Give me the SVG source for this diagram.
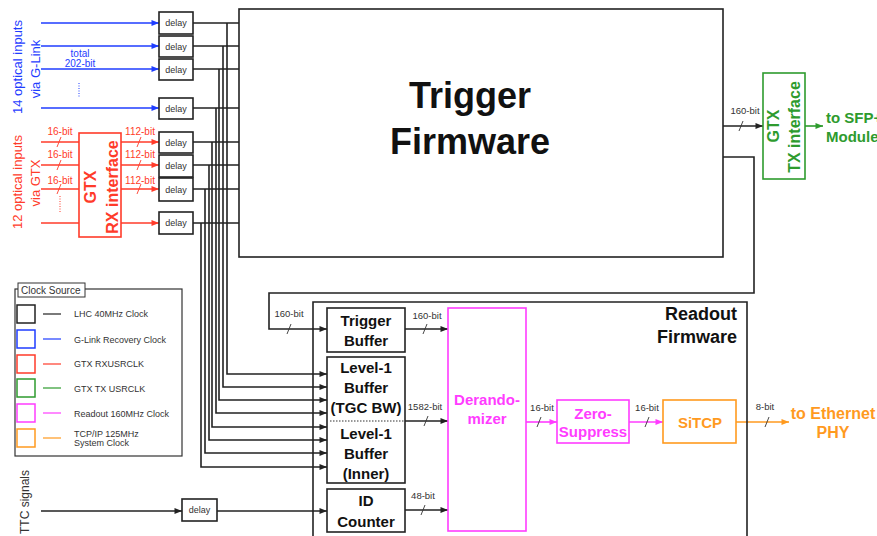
<svg xmlns="http://www.w3.org/2000/svg" width="877" height="536" viewBox="0 0 877 536">
<defs>
<marker id="ak" viewBox="0 0 10 8" refX="10" refY="4" markerWidth="8" markerHeight="6" markerUnits="userSpaceOnUse" orient="auto"><path d="M0,0 L10,4 L0,8 z" fill="#222"/></marker>
<marker id="ab" viewBox="0 0 10 8" refX="10" refY="4" markerWidth="8" markerHeight="6" markerUnits="userSpaceOnUse" orient="auto"><path d="M0,0 L10,4 L0,8 z" fill="#1f3dff"/></marker>
<marker id="ar" viewBox="0 0 10 8" refX="10" refY="4" markerWidth="8" markerHeight="6" markerUnits="userSpaceOnUse" orient="auto"><path d="M0,0 L10,4 L0,8 z" fill="#ff3b2a"/></marker>
<marker id="ag" viewBox="0 0 10 8" refX="10" refY="4" markerWidth="8" markerHeight="6" markerUnits="userSpaceOnUse" orient="auto"><path d="M0,0 L10,4 L0,8 z" fill="#2e9b2e"/></marker>
<marker id="am" viewBox="0 0 10 8" refX="10" refY="4" markerWidth="8" markerHeight="6" markerUnits="userSpaceOnUse" orient="auto"><path d="M0,0 L10,4 L0,8 z" fill="#ff3cff"/></marker>
<marker id="ao" viewBox="0 0 10 8" refX="10" refY="4" markerWidth="8" markerHeight="6" markerUnits="userSpaceOnUse" orient="auto"><path d="M0,0 L10,4 L0,8 z" fill="#ff9a1f"/></marker>
</defs>
<style>
text{font-family:"Liberation Sans",Arial,sans-serif}
.box{fill:#fff;stroke:#222;stroke-width:1.6}
.dl{font-size:9px;fill:#333;text-anchor:middle}
.lbl{font-size:9.5px;fill:#333;text-anchor:middle}
.blk{font-size:15px;font-weight:bold;fill:#111;text-anchor:middle}
.k{fill:none;stroke:#222;stroke-width:1.6}
.b{fill:none;stroke:#1f3dff;stroke-width:1.6}
.r{fill:none;stroke:#ff3b2a;stroke-width:1.6}
.g{fill:none;stroke:#2e9b2e;stroke-width:1.6}
.m{fill:none;stroke:#ff3cff;stroke-width:1.6}
.o{fill:none;stroke:#ff9a1f;stroke-width:1.6}
.sl{stroke:#333;stroke-width:0.9;fill:none}
.slr{stroke:#ff3b2a;stroke-width:0.9;fill:none}
.lt{font-size:9px;fill:#333}
</style>
<rect width="877" height="536" fill="#fff"/>

<g id="connectors">
<line class="b" x1="41" y1="23" x2="159" y2="23" marker-end="url(#ab)"/>
<line class="b" x1="41" y1="46" x2="159" y2="46" marker-end="url(#ab)"/>
<line class="b" x1="41" y1="69" x2="159" y2="69" marker-end="url(#ab)"/>
<line class="b" x1="41" y1="108" x2="159" y2="108" marker-end="url(#ab)"/>
<line x1="79" y1="83" x2="79" y2="97" stroke="#1f3dff" stroke-width="1" stroke-dasharray="1,1.5"/>
<line class="r" x1="41" y1="142" x2="79" y2="142"/>
<line class="r" x1="41" y1="165" x2="79" y2="165"/>
<line class="r" x1="41" y1="189" x2="79" y2="189"/>
<line class="r" x1="41" y1="223" x2="79" y2="223"/>
<line x1="60" y1="196" x2="60" y2="212" stroke="#ff3b2a" stroke-width="1" stroke-dasharray="1,1.5"/>
<line class="r" x1="121" y1="142" x2="159" y2="142" marker-end="url(#ar)"/>
<line class="r" x1="121" y1="165" x2="159" y2="165" marker-end="url(#ar)"/>
<line class="r" x1="121" y1="189" x2="159" y2="189" marker-end="url(#ar)"/>
<line class="r" x1="121" y1="223" x2="159" y2="223" marker-end="url(#ar)"/>
<path class="slr" d="M57,147 L61,137 M57,170 L61,160 M57,194 L61,184 M137,147 L141,137 M137,170 L141,160 M137,194 L141,184"/>
<path class="k" d="M193,23 H239 M193,46 H239 M193,69 H239 M193,108 H239 M193,142 H239 M193,165 H239 M193,189 H239 M193,223 H239"/>
<path class="k" d="M227,23 V374 H327" marker-end="url(#ak)"/>
<path class="k" d="M223,46 V387 H327" marker-end="url(#ak)"/>
<path class="k" d="M219,69 V400 H327" marker-end="url(#ak)"/>
<path class="k" d="M216,108 V413 H327" marker-end="url(#ak)"/>
<path class="k" d="M212,142 V427 H327" marker-end="url(#ak)"/>
<path class="k" d="M209,165 V440 H327" marker-end="url(#ak)"/>
<path class="k" d="M205,189 V453 H327" marker-end="url(#ak)"/>
<path class="k" d="M201,223 V467 H327" marker-end="url(#ak)"/>
<line class="k" x1="723" y1="126" x2="763" y2="126" marker-end="url(#ak)"/>
<path class="sl" d="M739,131 L743,121"/>
<text class="lbl" x="745" y="114">160-bit</text>
<line class="g" x1="805" y1="126" x2="823" y2="126" marker-end="url(#ag)"/>
<path class="k" d="M723,157 H754 V293 H269 V329 H327" marker-end="url(#ak)"/>
<path class="sl" d="M287,334 L291,324"/>
<text class="lbl" x="289" y="317">160-bit</text>
<line class="k" x1="405" y1="329" x2="448" y2="329" marker-end="url(#ak)"/>
<path class="sl" d="M423,334 L427,324"/>
<text class="lbl" x="427" y="319">160-bit</text>
<line class="k" x1="405" y1="421" x2="448" y2="421" marker-end="url(#ak)"/>
<path class="sl" d="M424,426 L428,416"/>
<text class="lbl" x="425" y="410">1582-bit</text>
<line class="k" x1="405" y1="510" x2="448" y2="510" marker-end="url(#ak)"/>
<path class="sl" d="M421,515 L425,505"/>
<text class="lbl" x="423" y="499">48-bit</text>
<line class="m" x1="526" y1="422" x2="557" y2="422" marker-end="url(#am)"/>
<path class="sl" d="M537,427 L541,417"/>
<text class="lbl" x="542" y="411">16-bit</text>
<line class="m" x1="629" y1="422" x2="663" y2="422" marker-end="url(#am)"/>
<path class="sl" d="M645,427 L649,417"/>
<text class="lbl" x="647" y="411">16-bit</text>
<line class="o" x1="736" y1="422" x2="789" y2="422" marker-end="url(#ao)"/>
<path class="sl" d="M765,427 L769,417"/>
<text class="lbl" x="765" y="410">8-bit</text>
<line class="k" x1="41" y1="511" x2="182" y2="511" marker-end="url(#ak)"/>
<line class="k" x1="217" y1="511" x2="327" y2="511" marker-end="url(#ak)"/>
</g>

<g id="input-labels">
<text transform="translate(22,67) rotate(-90)" font-size="13" fill="#1f3dff" text-anchor="middle">14 optical inputs</text>
<text transform="translate(40,69) rotate(-90)" font-size="13" fill="#1f3dff" text-anchor="middle">via G-Link</text>
<text x="80" y="57" font-size="10" fill="#1f3dff" text-anchor="middle">total</text>
<text x="80" y="67" font-size="10" fill="#1f3dff" text-anchor="middle">202-bit</text>
<text transform="translate(22,182) rotate(-90)" font-size="13" fill="#ff3b2a" text-anchor="middle">12 optical inputs</text>
<text transform="translate(40,183) rotate(-90)" font-size="13" fill="#ff3b2a" text-anchor="middle">via GTX</text>
<text x="60" y="135" font-size="10" fill="#ff3b2a" text-anchor="middle">16-bit</text>
<text x="60" y="158" font-size="10" fill="#ff3b2a" text-anchor="middle">16-bit</text>
<text x="60" y="184" font-size="10" fill="#ff3b2a" text-anchor="middle">16-bit</text>
<text x="140" y="135" font-size="10" fill="#ff3b2a" text-anchor="middle">112-bit</text>
<text x="140" y="158" font-size="10" fill="#ff3b2a" text-anchor="middle">112-bit</text>
<text x="140" y="184" font-size="10" fill="#ff3b2a" text-anchor="middle">112-bit</text>
<text transform="translate(29,502) rotate(-90)" font-size="12" fill="#333" text-anchor="middle">TTC signals</text>
</g>

<g id="delay1"><rect class="box" x="159" y="12" width="34" height="22"/><text class="dl" x="176" y="26">delay</text></g>
<g id="delay2"><rect class="box" x="159" y="36" width="34" height="21"/><text class="dl" x="176" y="49.5">delay</text></g>
<g id="delay3"><rect class="box" x="159" y="59" width="34" height="21"/><text class="dl" x="176" y="72.5">delay</text></g>
<g id="delay4"><rect class="box" x="159" y="98" width="34" height="21"/><text class="dl" x="176" y="111.5">delay</text></g>
<g id="delay5"><rect class="box" x="159" y="132" width="34" height="21"/><text class="dl" x="176" y="145.5">delay</text></g>
<g id="delay6"><rect class="box" x="159" y="155" width="34" height="22"/><text class="dl" x="176" y="169">delay</text></g>
<g id="delay7"><rect class="box" x="159" y="178" width="34" height="23"/><text class="dl" x="176" y="192.5">delay</text></g>
<g id="delay8"><rect class="box" x="159" y="212" width="34" height="22"/><text class="dl" x="176" y="226">delay</text></g>
<g id="delay-ttc"><rect class="box" x="182" y="499" width="35" height="22"/><text class="dl" x="199.5" y="513">delay</text></g>

<g id="gtx-rx">
<rect x="79" y="133" width="42" height="104" fill="#fff" stroke="#ff3b2a" stroke-width="1.6"/>
<text transform="translate(96,187) rotate(-90)" font-size="16" font-weight="bold" fill="#ff3b2a" text-anchor="middle">GTX</text>
<text transform="translate(118,187) rotate(-90)" font-size="16" font-weight="bold" fill="#ff3b2a" text-anchor="middle">RX interface</text>
</g>

<g id="trigger-firmware">
<rect x="239" y="9" width="484" height="248" fill="#fff" stroke="#222" stroke-width="1.6"/>
<text x="470" y="108" font-size="36" font-weight="bold" fill="#111" text-anchor="middle">Trigger</text>
<text x="470" y="154" font-size="36" font-weight="bold" fill="#111" text-anchor="middle">Firmware</text>
</g>

<g id="gtx-tx">
<rect x="763" y="73" width="42" height="106" fill="#fff" stroke="#2e9b2e" stroke-width="1.6"/>
<text transform="translate(779,126) rotate(-90)" font-size="16" font-weight="bold" fill="#2e9b2e" text-anchor="middle">GTX</text>
<text transform="translate(800,127) rotate(-90)" font-size="16" font-weight="bold" fill="#2e9b2e" text-anchor="middle">TX interface</text>
</g>
<g id="sfp">
<text x="826" y="123" font-size="15" font-weight="bold" fill="#2e9b2e">to SFP+</text>
<text x="826" y="142" font-size="15" font-weight="bold" fill="#2e9b2e">Module</text>
</g>

<g id="legend">
<rect x="15" y="289" width="167" height="167" fill="none" stroke="#333" stroke-width="1.2"/>
<rect x="18" y="283" width="67" height="14" fill="#fff" stroke="#333" stroke-width="1"/>
<text x="21" y="294" font-size="10" fill="#333">Clock Source</text>
<rect x="17" y="305" width="18" height="18" fill="none" stroke="#222" stroke-width="1.5"/>
<line x1="43" y1="314" x2="61" y2="314" stroke="#222" stroke-width="1.2"/>
<text class="lt" x="74" y="317">LHC 40MHz Clock</text>
<rect x="17" y="330" width="18" height="18" fill="none" stroke="#1f3dff" stroke-width="1.5"/>
<line x1="43" y1="339" x2="61" y2="339" stroke="#1f3dff" stroke-width="1.2"/>
<text class="lt" x="74" y="343">G-Link Recovery Clock</text>
<rect x="17" y="355" width="18" height="18" fill="none" stroke="#ff3b2a" stroke-width="1.5"/>
<line x1="43" y1="364" x2="61" y2="364" stroke="#ff3b2a" stroke-width="1.2"/>
<text class="lt" x="74" y="367">GTX RXUSRCLK</text>
<rect x="17" y="379" width="18" height="18" fill="none" stroke="#2e9b2e" stroke-width="1.5"/>
<line x1="43" y1="388" x2="61" y2="388" stroke="#2e9b2e" stroke-width="1.2"/>
<text class="lt" x="74" y="392">GTX TX USRCLK</text>
<rect x="17" y="404" width="18" height="18" fill="none" stroke="#ff3cff" stroke-width="1.5"/>
<line x1="43" y1="413" x2="61" y2="413" stroke="#ff3cff" stroke-width="1.2"/>
<text class="lt" x="74" y="417">Readout 160MHz Clock</text>
<rect x="17" y="429" width="18" height="18" fill="none" stroke="#ff9a1f" stroke-width="1.5"/>
<line x1="43" y1="438" x2="61" y2="438" stroke="#ff9a1f" stroke-width="1.2"/>
<text class="lt" x="74" y="437">TCP/IP 125MHz</text>
<text class="lt" x="74" y="446">System Clock</text>
</g>

<g id="readout-firmware">
<path d="M313,536 V302 H747 V536" fill="none" stroke="#222" stroke-width="1.6"/>
<text x="737" y="320" font-size="18" font-weight="bold" fill="#111" text-anchor="end">Readout</text>
<text x="737" y="343" font-size="18" font-weight="bold" fill="#111" text-anchor="end">Firmware</text>
</g>

<g id="trigger-buffer">
<rect class="box" x="327" y="308" width="78" height="44"/>
<text class="blk" x="366" y="326">Trigger</text>
<text class="blk" x="366" y="346">Buffer</text>
</g>

<g id="level1-buffer">
<rect class="box" x="327" y="357" width="78" height="126"/>
<line x1="330" y1="421" x2="405" y2="421" stroke="#333" stroke-width="1.2" stroke-dasharray="1.5,1.5"/>
<text class="blk" x="366" y="373">Level-1</text>
<text class="blk" x="366" y="393">Buffer</text>
<text class="blk" x="366" y="413">(TGC BW)</text>
<text class="blk" x="366" y="439">Level-1</text>
<text class="blk" x="366" y="459">Buffer</text>
<text class="blk" x="366" y="479">(Inner)</text>
</g>

<g id="id-counter">
<rect class="box" x="327" y="489" width="78" height="43"/>
<text class="blk" x="366" y="506">ID</text>
<text class="blk" x="366" y="527">Counter</text>
</g>

<g id="derandomizer">
<rect x="448" y="308" width="78" height="223" fill="#fff" stroke="#ff3cff" stroke-width="1.6"/>
<text class="blk" x="487" y="405" style="fill:#ff3cff">Derando-</text>
<text class="blk" x="487" y="424" style="fill:#ff3cff">mizer</text>
</g>

<g id="zero-suppress">
<rect x="557" y="400" width="72" height="43" fill="#fff" stroke="#ff3cff" stroke-width="1.6"/>
<text class="blk" x="593" y="419" style="fill:#ff3cff">Zero-</text>
<text class="blk" x="593" y="437" style="fill:#ff3cff">Suppress</text>
</g>

<g id="sitcp">
<rect x="663" y="400" width="73" height="43" fill="#fff" stroke="#ff9a1f" stroke-width="1.6"/>
<text class="blk" x="700" y="428" style="fill:#ff9a1f">SiTCP</text>
</g>

<g id="ethernet">
<text x="833" y="419" font-size="16" font-weight="bold" fill="#ff9a1f" text-anchor="middle">to Ethernet</text>
<text x="833" y="438" font-size="16" font-weight="bold" fill="#ff9a1f" text-anchor="middle">PHY</text>
</g>
</svg>
